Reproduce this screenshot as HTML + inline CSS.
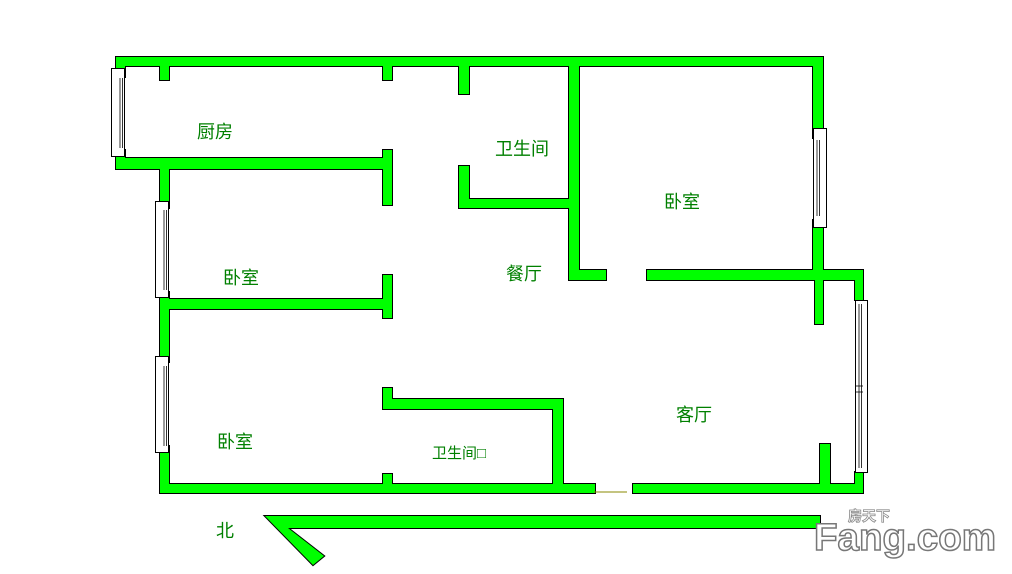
<!DOCTYPE html>
<html><head><meta charset="utf-8"><style>
html,body{margin:0;padding:0;background:#fff;width:1012px;height:574px;overflow:hidden}
svg{display:block}
.t{font-family:"Liberation Sans","Noto Sans CJK SC",sans-serif;fill:#008000;font-size:18px}
</style></head><body>
<svg width="1012" height="574" viewBox="0 0 1012 574" xmlns="http://www.w3.org/2000/svg">
<defs>
<g id="w">
<rect x="116" y="57" width="707" height="9"/>
<rect x="116" y="57" width="9" height="20"/>
<rect x="116" y="150" width="9" height="19"/>
<rect x="116" y="158" width="276" height="11"/>
<rect x="383" y="150" width="9" height="55"/>
<rect x="160" y="66" width="9" height="14"/>
<rect x="383" y="66" width="9" height="14"/>
<rect x="459" y="66" width="10" height="28"/>
<rect x="459" y="166" width="10" height="42"/>
<rect x="459" y="199" width="120" height="9"/>
<rect x="569" y="57" width="10" height="223"/>
<rect x="569" y="270" width="37" height="10"/>
<rect x="160" y="158" width="9" height="50"/>
<rect x="160" y="292" width="9" height="70"/>
<rect x="160" y="299" width="232" height="10"/>
<rect x="383" y="275" width="9" height="43"/>
<rect x="160" y="446" width="9" height="47"/>
<rect x="160" y="484" width="435" height="9"/>
<rect x="383" y="388" width="9" height="21"/>
<rect x="383" y="399" width="180" height="10"/>
<rect x="553" y="399" width="10" height="94"/>
<rect x="383" y="474" width="9" height="19"/>
<rect x="633" y="484" width="230" height="9"/>
<rect x="820" y="444" width="10" height="49"/>
<rect x="813" y="57" width="10" height="81"/>
<rect x="813" y="220" width="10" height="60"/>
<rect x="647" y="270" width="216" height="10"/>
<rect x="855" y="270" width="8" height="30"/>
<rect x="855" y="472" width="8" height="21"/>
<rect x="815" y="270" width="8" height="54"/>
<polygon points="265,516 820,516 820,528 288,528 324,556 313,565"/>
</g>
</defs>
<use href="#w" fill="#000" stroke="#000" stroke-width="2"/>
<use href="#w" fill="#00ff00"/>
<g fill="#fff" stroke="#000" stroke-width="1">
<rect x="111.5" y="68.5" width="13" height="88"/>
<rect x="155.5" y="201.5" width="13" height="96"/>
<rect x="155.5" y="356.5" width="13" height="96"/>
<rect x="813.5" y="128.5" width="13" height="99"/>
<rect x="855.5" y="300.5" width="12" height="172"/>
</g>
<g stroke="#000" stroke-width="0.8">
<line x1="120" y1="78" x2="120" y2="148"/><line x1="122.5" y1="78" x2="122.5" y2="148"/>
<line x1="164" y1="210" x2="164" y2="290"/><line x1="166.5" y1="210" x2="166.5" y2="290"/>
<line x1="164" y1="366" x2="164" y2="446"/><line x1="166.5" y1="366" x2="166.5" y2="446"/>
<line x1="817" y1="140" x2="817" y2="216"/><line x1="819.5" y1="140" x2="819.5" y2="216"/>
<line x1="859" y1="304" x2="859" y2="468"/><line x1="861.5" y1="304" x2="861.5" y2="468"/>
<line x1="855" y1="386" x2="863" y2="386"/><line x1="855" y1="392" x2="863" y2="392"/>
</g>
<line x1="594" y1="492" x2="627" y2="492" stroke="#888800" stroke-width="1"/>
<text class="t" x="197" y="138">厨房</text>
<text class="t" x="495" y="155">卫生间</text>
<text class="t" x="664" y="208">卧室</text>
<text class="t" x="506" y="280">餐厅</text>
<text class="t" x="223" y="284">卧室</text>
<text class="t" x="217" y="448">卧室</text>
<text class="t" x="432" y="458" style="font-size:15px">卫生间□</text>
<text class="t" x="676" y="421">客厅</text>
<text class="t" x="216" y="537">北</text>
<text x="848" y="521" font-family="Liberation Sans,Noto Sans CJK SC,sans-serif" font-weight="bold" font-size="14" fill="#fff" stroke="#888" stroke-width="0.8">房天下</text>
<text x="814" y="550" font-family="Liberation Sans,sans-serif" font-weight="bold" font-size="38" fill="#fff" stroke="#777" stroke-width="1.5" textLength="182" lengthAdjust="spacingAndGlyphs">Fang.com</text>
</svg>
</body></html>
